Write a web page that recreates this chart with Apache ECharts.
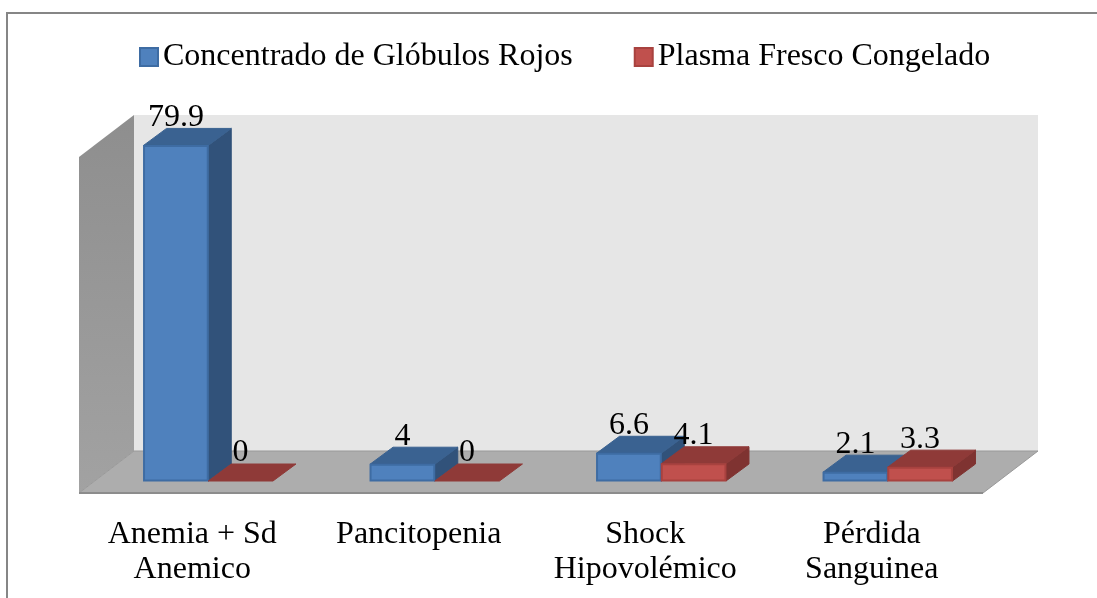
<!DOCTYPE html>
<html>
<head>
<meta charset="utf-8">
<style>html,body{margin:0;padding:0;background:#fff}#c{width:1097px;height:598px}</style>
<script src="https://cdn.jsdelivr.net/npm/echarts@6/dist/echarts.min.js"></script>
</head>
<body>
<div id="c"></div>
<script>
const categories = ['Anemia + Sd\nAnemico', 'Pancitopenia', 'Shock\nHipovolémico', 'Pérdida\nSanguinea'];
const globulosRojos = [79.9, 4, 6.6, 2.1];
const plasmaFresco = [0, 0, 4.1, 3.3];
const seriesNames = ['Concentrado de Glóbulos Rojos', 'Plasma Fresco Congelado'];
const FONT = '"Liberation Serif","Times New Roman",serif';
const palette = [
  {front:'#4F81BD', top:'#3A6291', side:'#31527A', edge:'#3E6CA3'},
  {front:'#C0504D', top:'#8F3A38', side:'#7F3331', edge:'#A8423F'}
];
const DEPTH_X = 23, DEPTH_Y = 17;

function renderBar(seriesIdx) {
  return function (params, api) {
    const v = api.value(1);
    const base = api.coord([api.value(0), 0]);
    const topPt = api.coord([api.value(0), v]);
    const band = api.size([1, 0])[0];
    const w = band / 3.5;
    const x0 = base[0] - w + seriesIdx * w;
    const x1 = x0 + w;
    const yb = base[1], yt = topPt[1];
    const c = palette[seriesIdx];
    const kids = [];
    const poly = (pts, fill, stroke) => ({
      type: 'polygon', shape: {points: pts},
      style: {fill: fill, stroke: stroke || fill, lineWidth: 1}
    });
    if (v > 0) {
      kids.push(poly([[x1,yb],[x1+DEPTH_X,yb-DEPTH_Y],[x1+DEPTH_X,yt-DEPTH_Y],[x1,yt]], c.side));
    }
    kids.push(poly([[x0,yt],[x0+DEPTH_X,yt-DEPTH_Y],[x1+DEPTH_X,yt-DEPTH_Y],[x1,yt]], c.top));
    if (v > 0) {
      kids.push({type:'rect', shape:{x:x0+0.5,y:yt+0.5,width:w-1,height:yb-yt-1},
        style:{fill:c.front, stroke:c.edge, lineWidth:2}});
    }
    kids.push({type:'text', z2:100, style:{
      text:String(v), x:(x0+x1)/2, y:yt-28, align:'center', verticalAlign:'middle',
      font:'32px '+FONT, fill:'#000'}});
    return {type:'group', children:kids};
  };
}

const chart = echarts.init(document.getElementById('c'), null, {renderer:'canvas'});
chart.setOption({
  animation:false,
  backgroundColor:'#fff',
  grid:{left:95, width:906, top:145, bottom:117, containLabel:false},
  legend:{
    left:134, top:36, itemWidth:18, itemHeight:18, itemGap:61,
    data:seriesNames.map((n,i)=>({name:n, icon:'rect',
      itemStyle:{color:palette[i].front, borderColor:palette[i].edge, borderWidth:2}})),
    textStyle:{fontFamily:FONT, fontSize:32, color:'#000'}
  },
  xAxis:{type:'category', data:categories,
    axisLine:{show:false}, axisTick:{show:false}, splitLine:{show:false},
    axisLabel:{interval:0, margin:36, fontFamily:FONT, fontSize:32, lineHeight:35, color:'#000',
      padding:[0,32,0,0], hideOverlap:false}},
  yAxis:{type:'value', min:0, max:80, show:false, splitLine:{show:false}},
  graphic:[
    {type:'polyline', z:-10, shape:{points:[[7,598],[7,13],[1097,13]]}, style:{fill:'none', stroke:'#868686', lineWidth:2}},
    {type:'polygon', z:-10, shape:{points:[[134,115],[1038,115],[1038,451],[134,451]]}, style:{fill:'#E6E6E6'}},
    {type:'polygon', z:-9, shape:{points:[[79,157],[134,115],[134,451],[79,493]]},
      style:{fill:new echarts.graphic.LinearGradient(0,0,0,1,[{offset:0,color:'#8E8E8E'},{offset:1,color:'#A2A2A2'}])}},
    {type:'polygon', z:-8, shape:{points:[[79,493],[134,451],[1038,451],[983,493]]}, style:{fill:'#ADADAD', stroke:'#999999', lineWidth:1}},
    {type:'line', z:-7, shape:{x1:79,y1:493,x2:983,y2:493}, style:{stroke:'#8C8C8C', lineWidth:2}}
  ],
  series:[
    {name:seriesNames[0], type:'custom', clip:false, coordinateSystem:'cartesian2d',
      renderItem:renderBar(0), encode:{x:0,y:1}, itemStyle:{color:palette[0].front},
      data:globulosRojos.map((v,i)=>[i,v])},
    {name:seriesNames[1], type:'custom', clip:false, coordinateSystem:'cartesian2d',
      renderItem:renderBar(1), encode:{x:0,y:1}, itemStyle:{color:palette[1].front},
      data:plasmaFresco.map((v,i)=>[i,v])}
  ]
});
</script>
</body>
</html>
